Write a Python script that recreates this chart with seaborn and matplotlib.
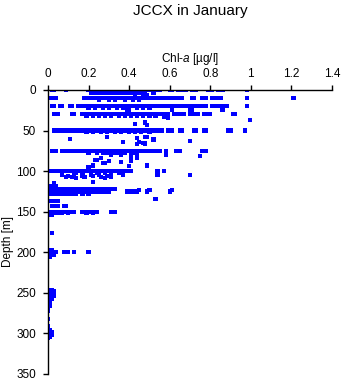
import matplotlib
matplotlib.use("Agg")
import matplotlib.pyplot as plt
import seaborn as sns
import pandas as pd

# ---- data: Chl-a [ug/l] values read per depth level [m] ----
x_d0 = [0.02,0.03,0.09,0.20,0.21,0.22,0.23,0.24,0.25,0.26,0.27,0.28,0.29,0.30,0.31,0.32,0.33,0.34,0.35,0.36,0.37,0.38,0.39,0.40,0.41,0.42,0.43,0.44,0.45,0.46,0.47,0.48,0.49,0.50,0.51,0.53,0.55,0.60,0.61,0.64,0.66,0.68,0.71,0.73,0.79,0.81,0.84,0.86,0.98]
x_d3 = [0.21,0.22,0.24,0.26,0.27,0.29,0.31,0.32,0.34,0.36,0.37,0.39,0.41,0.43,0.44,0.45,0.47,0.48,0.52]
x_d6 = [0.43,0.47,0.49]
x_d10 = [0.01,0.02,0.04,0.18,0.19,0.20,0.21,0.22,0.23,0.24,0.25,0.26,0.27,0.28,0.29,0.30,0.31,0.32,0.33,0.34,0.35,0.36,0.37,0.38,0.39,0.40,0.41,0.42,0.43,0.44,0.45,0.46,0.47,0.48,0.49,0.50,0.52,0.53,0.55,0.56,0.58,0.60,0.61,0.63,0.64,0.66,0.71,0.72,0.76,0.78,0.81,0.83,0.85,0.98,1.21]
x_d12 = [0.25,0.30,0.33,0.38,0.42,0.45]
x_d20 = [0.02,0.03,0.06,0.07,0.11,0.12,0.15,0.17,0.18,0.19,0.20,0.21,0.22,0.23,0.24,0.25,0.26,0.27,0.28,0.29,0.30,0.31,0.32,0.33,0.34,0.35,0.36,0.37,0.38,0.39,0.40,0.41,0.42,0.43,0.44,0.45,0.46,0.47,0.48,0.49,0.50,0.51,0.52,0.54,0.55,0.57,0.59,0.61,0.62,0.64,0.65,0.66,0.68,0.69,0.70,0.72,0.73,0.75,0.76,0.78,0.81,0.83,0.85,0.87,0.88,0.98]
x_d22 = [0.20,0.23,0.27,0.30,0.34,0.37,0.40,0.44,0.47,0.50]
x_d25 = [0.39,0.40,0.61,0.70,0.71,0.86]
x_d30 = [0.03,0.04,0.05,0.12,0.13,0.17,0.18,0.19,0.20,0.21,0.22,0.23,0.24,0.25,0.26,0.27,0.28,0.29,0.30,0.31,0.32,0.33,0.34,0.35,0.36,0.37,0.38,0.39,0.40,0.41,0.42,0.43,0.44,0.45,0.46,0.47,0.48,0.49,0.50,0.51,0.52,0.53,0.54,0.56,0.57,0.59,0.62,0.63,0.64,0.66,0.67,0.70,0.71,0.73,0.74,0.77,0.78,0.80,0.91,0.92]
x_d32 = [0.19,0.22,0.25,0.28,0.31,0.35,0.38,0.41,0.44,0.47,0.50,0.53]
x_d50 = [0.03,0.04,0.06,0.07,0.09,0.10,0.12,0.13,0.15,0.16,0.17,0.18,0.19,0.20,0.21,0.22,0.23,0.24,0.25,0.26,0.27,0.28,0.29,0.30,0.31,0.32,0.33,0.34,0.35,0.36,0.37,0.38,0.39,0.40,0.41,0.42,0.43,0.44,0.45,0.46,0.47,0.48,0.49,0.50,0.51,0.52,0.53,0.55,0.56,0.59,0.60,0.61,0.65,0.66,0.72,0.73,0.77,0.78,0.89,0.90,0.97]
x_d52 = [0.19,0.22,0.26,0.29,0.33,0.36,0.40,0.43,0.46,0.50]
x_d75 = [0.02,0.03,0.04,0.07,0.09,0.10,0.12,0.13,0.14,0.15,0.16,0.17,0.18,0.19,0.20,0.21,0.22,0.23,0.24,0.25,0.26,0.27,0.28,0.29,0.30,0.31,0.32,0.33,0.34,0.35,0.36,0.37,0.38,0.39,0.40,0.41,0.42,0.43,0.44,0.45,0.46,0.48,0.50,0.52,0.53,0.54,0.55,0.58,0.63,0.64,0.65,0.76,0.78]
x_d77 = [0.20,0.24,0.27,0.29,0.32,0.35,0.38]
x_d100 = [0.01,0.02,0.03,0.04,0.06,0.07,0.08,0.09,0.10,0.11,0.12,0.13,0.14,0.15,0.16,0.17,0.18,0.19,0.20,0.21,0.22,0.23,0.24,0.25,0.26,0.27,0.28,0.29,0.30,0.31,0.32,0.33,0.34,0.35,0.36,0.37,0.38,0.40,0.41,0.54,0.57]
x_d102 = [0.14,0.17,0.21,0.24,0.28,0.31,0.35]
x_d119 = [0.01,0.02,0.03,0.04]
x_d122 = [0.00,0.01,0.02,0.03,0.04,0.05,0.06,0.07,0.08,0.09,0.10,0.11,0.12,0.13,0.14,0.15,0.16,0.17,0.18,0.19,0.20,0.21,0.22,0.23,0.24,0.25,0.26,0.27,0.28,0.29,0.30,0.31,0.32,0.33]
x_d125 = [0.00,0.01,0.02,0.03,0.04,0.05,0.06,0.07,0.08,0.09,0.10,0.11,0.12,0.13,0.14,0.15,0.16,0.17,0.18,0.19,0.20,0.21,0.22,0.23,0.24,0.25,0.26,0.27,0.28,0.29,0.30,0.39,0.41,0.42,0.44,0.49,0.60]
x_d128 = [0.00,0.01,0.02,0.03,0.05,0.06,0.08,0.10,0.12,0.14,0.17,0.20]
x_d137 = [0.00,0.01,0.02,0.03,0.05]
x_d143 = [0.02,0.03,0.05,0.08,0.09]
x_d150 = [0.00,0.01,0.02,0.03,0.04,0.05,0.06,0.07,0.08,0.09,0.10,0.11,0.12,0.13,0.17,0.18,0.19,0.20,0.21,0.22,0.23,0.24,0.31,0.32,0.33]
x_d152 = [0.00,0.01,0.02,0.03,0.05,0.07,0.10,0.19,0.22]
x_d154 = [0.00,0.01,0.02]
x_d176 = [0.02]
x_d197 = [0.00,0.01,0.02]
x_d200 = [0.00,0.01,0.02,0.03,0.04,0.08,0.10,0.13,0.20]
x_d203 = [0.00,0.01,0.02,0.03]
x_d206 = [0.00,0.01]

# scattered single samples (depth, chl)
scatter_depth = [37,40,42,43,33,34,58,60,59,58,58,63,64,64,65,66,67,61,
                 80,77,80,78,78,79,86,86,84,87,89,88,90,90,95,93,94,80,81,93,82,84,
                 105,107,106,107,105,108,106,107,105,106,105,107,108,106,107,105,105,105,113,115,
                 123,123,123,134]
scatter_chl = [0.995,0.48,0.43,0.49,0.57,0.59,0.29,0.11,0.44,0.48,0.49,0.70,0.37,0.45,0.47,0.48,0.44,0.52,
               0.31,0.34,0.36,0.41,0.43,0.44,0.23,0.24,0.26,0.30,0.36,0.41,0.27,0.28,0.20,0.22,0.40,0.58,0.75,0.49,0.41,0.44,
               0.07,0.09,0.10,0.12,0.13,0.14,0.17,0.18,0.21,0.22,0.25,0.26,0.28,0.29,0.31,0.37,0.54,0.70,0.22,0.03,
               0.45,0.50,0.61,0.53]

# deep near-zero column
deep_depth_a = [246,248,250,252,254,256,258,260,262,264,266,268,270,272,282,291,293,295,297,299,301,303,305]
deep_chl_a = [0.00,0.00,0.00,0.00,0.00,0.00,0.00,0.00,0.00,0.00,0.00,0.00,0.00,0.00,0.00,0.00,0.00,0.00,0.00,0.00,0.00,0.00,0.00]
deep_depth_b = [246,248,250,252,254,256,258,262,266,296,298,300,302,304]
deep_chl_b = [0.02,0.03,0.03,0.02,0.03,0.02,0.02,0.01,0.01,0.01,0.02,0.02,0.02,0.01]

xtick_vals = [0, 0.2, 0.4, 0.6, 0.8, 1.0, 1.2, 1.4]
xtick_labels = ["0", "0.2", "0.4", "0.6", "0.8", "1", "1.2", "1.4"]
ytick_vals = [0, 50, 100, 150, 200, 250, 300, 350]

levels = {0: x_d0, 3: x_d3, 6: x_d6, 10: x_d10, 12: x_d12, 20: x_d20, 22: x_d22, 25: x_d25,
          30: x_d30, 32: x_d32, 50: x_d50, 52: x_d52, 75: x_d75, 77: x_d77, 100: x_d100,
          102: x_d102, 119: x_d119, 122: x_d122, 125: x_d125, 128: x_d128, 137: x_d137,
          143: x_d143, 150: x_d150, 152: x_d152, 154: x_d154, 176: x_d176, 197: x_d197,
          200: x_d200, 203: x_d203, 206: x_d206}

rows = []
for d, xs in levels.items():
    for v in xs:
        rows.append((v, d))
rows += list(zip(scatter_chl, scatter_depth))
rows += list(zip(deep_chl_a, deep_depth_a))
rows += list(zip(deep_chl_b, deep_depth_b))
df = pd.DataFrame(rows, columns=["chl", "depth"])

# ---- style ----
sns.set_style("ticks")
plt.rcParams["font.family"] = ["Liberation Sans", "DejaVu Sans"]
plt.rcParams["mathtext.fontset"] = "custom"
plt.rcParams["mathtext.it"] = "Liberation Sans:italic"
plt.rcParams["mathtext.rm"] = "Liberation Sans"
plt.rcParams["text.color"] = "black"
plt.rcParams["axes.labelcolor"] = "black"
plt.rcParams["xtick.color"] = "black"
plt.rcParams["ytick.color"] = "black"

fig = plt.figure(figsize=(3.43, 3.84), dpi=100)
ax = fig.add_axes([48/343, 1-374/384, (332-48)/343, (374-90)/384])

sns.scatterplot(data=df, x="chl", y="depth", ax=ax, marker="s", s=9,
                color="#0000ff", linewidth=0, edgecolor="none", alpha=1.0)

ax.set_xlim(0, 1.4)
ax.set_ylim(350, 0)
ax.xaxis.tick_top()
ax.xaxis.set_label_position("top")
ax.set_xticks(xtick_vals)
ax.set_xticklabels(xtick_labels)
ax.set_yticks(ytick_vals)
ax.tick_params(axis="both", labelsize=8.5, length=3.5, width=1.0, color="black",
               labelcolor="black", pad=4)
ax.tick_params(axis="y", pad=5)
for s in ["right", "bottom"]:
    ax.spines[s].set_visible(False)
for s in ["left", "top"]:
    ax.spines[s].set_linewidth(1.0)
    ax.spines[s].set_color("black")

ax.set_xlabel("Chl-$a$ [µg/l]", fontsize=8.5, labelpad=4, color="black")
ax.set_ylabel("Depth [m]", fontsize=8.5, color="black")
ax.yaxis.set_label_coords(-34/284, 0.465)
fig.text(190/343, 1-11/384, "JCCX in January", ha="center", va="center",
         fontsize=11, color="black")

fig.savefig("out.png", dpi=100)
